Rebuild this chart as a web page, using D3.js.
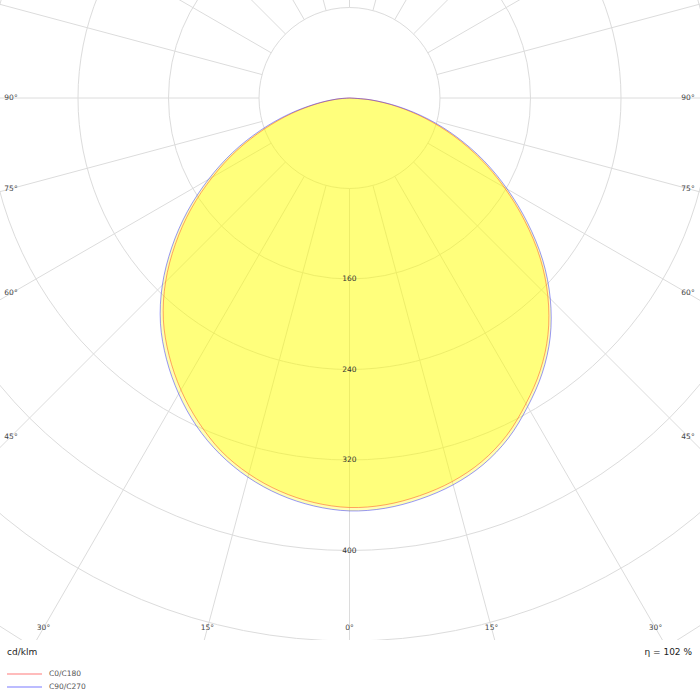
<!DOCTYPE html>
<html>
<head>
<meta charset="utf-8">
<script src="https://cdn.jsdelivr.net/npm/d3@7"></script>
<style>
  html, body { margin: 0; padding: 0; background: #fff; }
  svg { display: block; font-family: 'DejaVu Sans', Verdana, sans-serif; }
  .grid line, .grid circle { stroke: #dcdcdc; stroke-width: 1; fill: none; }
  .lbl { fill: #444; font-size: 7.5px; }
</style>
</head>
<body>
<div id="chart"></div>
<script>
// gamma angles (deg from nadir) and intensities in cd/klm
const gammas = [0, 5, 10, 15, 20, 25, 30, 35, 40, 45, 50, 55, 60, 65, 70, 75, 80, 85, 90];
const c0   = [362, 361, 357, 351, 342, 329, 312, 294, 273, 248, 220, 189, 158, 128, 98, 69, 42, 18, 0];
const c180 = [362, 359, 353, 344, 332, 316, 298, 278, 256, 230, 201, 171, 140, 110, 80, 53, 29, 11, 0];
const c90  = [365, 364, 360, 354, 345, 332, 315, 297, 276, 251, 223, 192, 161, 131, 101, 72, 44, 19, 0];
const c270 = [365, 362, 356, 347, 335, 320, 302, 282, 260, 234, 205, 175, 144, 114, 84, 56, 31, 12, 0];

const ringValues = [80, 160, 240, 320, 400, 480, 560, 640];
const ringLabels = [160, 240, 320, 400];
const spokeAngles = d3.range(0, 360, 15);
const angleLabels = [0, 15, 30, 45, 60, 75, 90];

const series = [
  { name: 'C0/C180', left: c180, right: c0, stroke: '#ff4a20', key: '#ffbcbc' },
  { name: 'C90/C270', left: c270, right: c90, stroke: '#3030ff', key: '#bcbcff' },
];

const W = 700, H = 700;
const cx = 349.5, cy = 98;
const gridBottom = 640;

const r = d3.scaleLinear().domain([0, 80]).range([0, 90.5]);
const rad = (d) => d * Math.PI / 180;

const svg = d3.select('#chart').append('svg').attr('width', W).attr('height', H);

svg.append('defs').append('clipPath').attr('id', 'plot-clip')
  .append('rect').attr('x', 0).attr('y', 0).attr('width', W).attr('height', gridBottom);

const plot = svg.append('g').attr('clip-path', 'url(#plot-clip)');
const grid = plot.append('g').attr('class', 'grid').attr('transform', `translate(${cx},${cy})`);

grid.selectAll('circle')
  .data(ringValues)
  .enter()
  .append('circle')
  .attr('r', (d) => r(d));

// spokes start at the first ring; angle measured from nadir
grid.selectAll('line')
  .data(spokeAngles)
  .enter()
  .append('line')
  .attr('x1', (d) => r(80) * Math.sin(rad(d)))
  .attr('y1', (d) => r(80) * Math.cos(rad(d)))
  .attr('x2', (d) => r(900) * Math.sin(rad(d)))
  .attr('y2', (d) => r(900) * Math.cos(rad(d)));

// each curve: left half (C180/C270) from 90 down to 0, then right half back up to 90
const curvePoints = (s) => {
  let pts = [];
  for (let i = gammas.length - 1; i >= 0; i--) pts.push([Math.PI + rad(gammas[i]), s.left[i]]);
  for (let i = 1; i < gammas.length; i++) pts.push([Math.PI - rad(gammas[i]), s.right[i]]);
  return pts;
};

const line = d3.lineRadial()
  .angle((d) => d[0])
  .radius((d) => r(d[1]))
  .curve(d3.curveCatmullRomClosed.alpha(0.5));

const curves = plot.append('g').attr('transform', `translate(${cx},${cy})`);

curves.selectAll('path.fill')
  .data(series)
  .enter()
  .append('path')
  .attr('class', 'fill')
  .attr('d', (s) => line(curvePoints(s)))
  .attr('fill', '#ffff00')
  .attr('fill-opacity', 0.3);

curves.selectAll('path.edge')
  .data(series)
  .enter()
  .append('path')
  .attr('class', 'edge')
  .attr('d', (s) => line(curvePoints(s)))
  .attr('fill', 'none')
  .attr('stroke', (s) => s.stroke)
  .attr('stroke-opacity', 0.5)
  .attr('stroke-width', 1);

// ring values down the nadir line
svg.append('g').selectAll('text')
  .data(ringLabels)
  .enter()
  .append('text')
  .attr('class', 'lbl')
  .attr('x', cx)
  .attr('y', (d) => cy + r(d))
  .attr('text-anchor', 'middle')
  .attr('dominant-baseline', 'middle')
  .style('fill', '#333')
  .text((d) => d);

// angle labels where the spokes leave the frame
const edge = { left: 11, right: 688, bottom: 628 };
const anglePos = (a, side) => {
  let dx = side * Math.sin(rad(a));
  let dy = Math.cos(rad(a));
  let t = Infinity;
  if (Math.abs(dx) > 1e-6) t = Math.min(t, ((side > 0 ? edge.right : edge.left) - cx) / dx);
  if (dy > 1e-6) t = Math.min(t, (edge.bottom - cy) / dy);
  return [cx + t * dx, cy + t * dy];
};

let angleData = [];
angleLabels.forEach((a) => {
  angleData.push({ a: a, p: anglePos(a, -1) });
  if (a !== 0) angleData.push({ a: a, p: anglePos(a, 1) });
});

svg.append('g').selectAll('text')
  .data(angleData)
  .enter()
  .append('text')
  .attr('class', 'lbl')
  .attr('x', (d) => d.p[0])
  .attr('y', (d) => d.p[1])
  .attr('text-anchor', 'middle')
  .attr('dominant-baseline', 'middle')
  .text((d) => d.a + '°');

svg.append('text')
  .attr('x', 7)
  .attr('y', 655)
  .style('font-size', '9px')
  .style('fill', '#222')
  .text('cd/klm');

svg.append('text')
  .attr('x', 692)
  .attr('y', 655)
  .attr('text-anchor', 'end')
  .style('font-size', '9px')
  .style('fill', '#222')
  .text('η = 102 %');

const key = svg.append('g').selectAll('g')
  .data(series)
  .enter()
  .append('g')
  .attr('transform', (d, i) => `translate(7,${674 + i * 13})`);

key.append('line')
  .attr('x1', 0).attr('x2', 35)
  .attr('stroke', (d) => d.key)
  .attr('stroke-width', 2);

key.append('text')
  .attr('x', 42)
  .attr('y', 0)
  .attr('dominant-baseline', 'middle')
  .style('font-size', '7.5px')
  .style('fill', '#555')
  .text((d) => d.name);
</script>
</body>
</html>
